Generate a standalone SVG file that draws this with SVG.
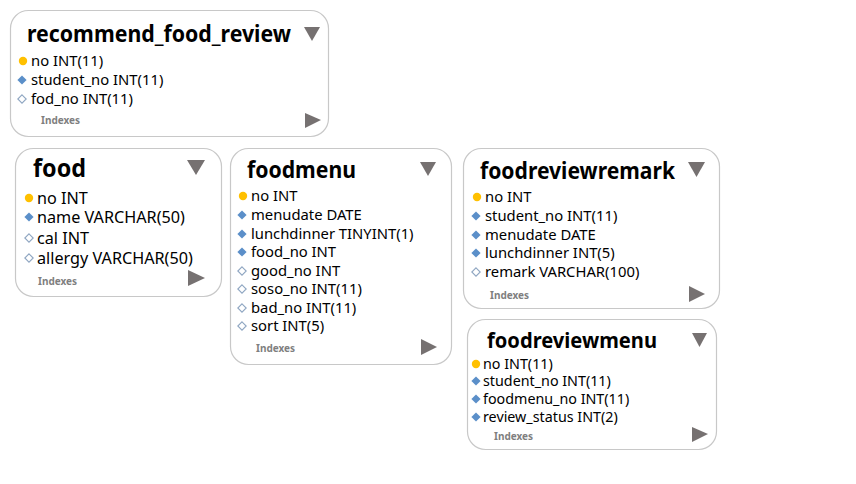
<svg xmlns="http://www.w3.org/2000/svg" width="856" height="484" viewBox="0 0 856 484">
<style>
.box{fill:#fff;stroke:#c8c8c8;stroke-width:1.2}
.t{font-family:"Noto Sans","Open Sans",sans-serif;font-weight:bold;fill:#000}
.r{font-family:"Noto Sans","Open Sans",sans-serif;fill:#000}
.ix{font-family:"Noto Sans","Open Sans",sans-serif;font-weight:bold;fill:#7f7f7f;font-size:10px}
.tri{fill:#767171}
.pk{fill:#FFC000}
.fk{fill:#5B8FC9}
.nn{fill:#fff;stroke:#8FA6C2;stroke-width:1.1}
</style>
<defs>
<circle id="pk" r="4.2" class="pk"/>
<path id="fk" d="M0,-4.6 L4.6,0 L0,4.6 L-4.6,0Z" class="fk"/>
<path id="nn" d="M0,-4.2 L4.2,0 L0,4.2 L-4.2,0Z" class="nn"/>
</defs>
<g id="connectors"/>
<g id="recommend_food_review">
<rect class="box" x="10.5" y="10.5" width="318" height="126" rx="18"/>
<text class="t" x="27" y="42" font-size="23.5" textLength="264" lengthAdjust="spacingAndGlyphs">recommend_food_review</text>
<path class="tri" d="M304,27 L320,27 L312,41Z"/>
<use href="#pk" x="23" y="61"/><text class="r" x="31" y="66" font-size="14.8">no INT(11)</text>
<use href="#fk" x="22" y="80"/><text class="r" x="31" y="85" font-size="14.8">student_no INT(11)</text>
<use href="#nn" x="22" y="99"/><text class="r" x="31" y="104" font-size="14.8">fod_no INT(11)</text>
<text class="ix" x="41" y="124">Indexes</text>
<path class="tri" d="M305,113 L321,120 L305,128Z"/>
</g>
<g id="food">
<rect class="box" x="15.5" y="148.5" width="206" height="148" rx="18"/>
<text class="t" x="33" y="177" font-size="25" textLength="53" lengthAdjust="spacingAndGlyphs">food</text>
<path class="tri" d="M187,160 L205,160 L196,175Z"/>
<use href="#pk" x="29" y="198"/><text class="r" x="37" y="204" font-size="16.2">no INT</text>
<use href="#fk" x="29" y="217"/><text class="r" x="37" y="223" font-size="16.2">name VARCHAR(50)</text>
<use href="#nn" x="29" y="238"/><text class="r" x="37" y="244" font-size="16.2">cal INT</text>
<use href="#nn" x="29" y="258"/><text class="r" x="37" y="264" font-size="16.2">allergy VARCHAR(50)</text>
<text class="ix" x="38" y="285">Indexes</text>
<path class="tri" d="M188,270 L205,278 L188,286Z"/>
</g>
<g id="foodmenu">
<rect class="box" x="230.5" y="148.5" width="221" height="216" rx="18"/>
<text class="t" x="247" y="178" font-size="23.5" textLength="109" lengthAdjust="spacingAndGlyphs">foodmenu</text>
<path class="tri" d="M420,162 L436,162 L428,176Z"/>
<use href="#pk" x="243" y="196"/><text class="r" x="251" y="201" font-size="14.8">no INT</text>
<use href="#fk" x="242" y="215"/><text class="r" x="251" y="220" font-size="14.8">menudate DATE</text>
<use href="#fk" x="242" y="234"/><text class="r" x="251" y="239" font-size="14.8">lunchdinner TINYINT(1)</text>
<use href="#fk" x="242" y="252"/><text class="r" x="251" y="257" font-size="14.8">food_no INT</text>
<use href="#nn" x="242" y="271"/><text class="r" x="251" y="276" font-size="14.8">good_no INT</text>
<use href="#nn" x="242" y="289"/><text class="r" x="251" y="294" font-size="14.8">soso_no INT(11)</text>
<use href="#nn" x="242" y="308"/><text class="r" x="251" y="313" font-size="14.8">bad_no INT(11)</text>
<use href="#nn" x="242" y="326"/><text class="r" x="251" y="331" font-size="14.8">sort INT(5)</text>
<text class="ix" x="256" y="352">Indexes</text>
<path class="tri" d="M421,339 L437,347 L421,355Z"/>
</g>
<g id="foodreviewremark">
<rect class="box" x="463.5" y="148.5" width="256" height="160" rx="18"/>
<text class="t" x="480" y="179" font-size="23.5" textLength="195" lengthAdjust="spacingAndGlyphs">foodreviewremark</text>
<path class="tri" d="M688,162 L705,162 L696.5,177Z"/>
<use href="#pk" x="477" y="197"/><text class="r" x="485" y="202" font-size="14.8">no INT</text>
<use href="#fk" x="476" y="216"/><text class="r" x="485" y="221" font-size="14.8">student_no INT(11)</text>
<use href="#fk" x="476" y="235"/><text class="r" x="485" y="240" font-size="14.8">menudate DATE</text>
<use href="#fk" x="476" y="253"/><text class="r" x="485" y="258" font-size="14.8">lunchdinner INT(5)</text>
<use href="#nn" x="476" y="272"/><text class="r" x="485" y="277" font-size="14.8">remark VARCHAR(100)</text>
<text class="ix" x="490" y="299">Indexes</text>
<path class="tri" d="M689,286 L705,294 L689,302Z"/>
</g>
<g id="foodreviewmenu">
<rect class="box" x="467.5" y="319.5" width="249" height="130" rx="18"/>
<text class="t" x="487" y="348" font-size="22" textLength="170" lengthAdjust="spacingAndGlyphs">foodreviewmenu</text>
<path class="tri" d="M692,333 L707,333 L699.5,347Z"/>
<use href="#pk" x="476" y="364"/><text class="r" x="483" y="369" font-size="14.3">no INT(11)</text>
<use href="#fk" x="476" y="381"/><text class="r" x="483" y="386" font-size="14.3">student_no INT(11)</text>
<use href="#fk" x="476" y="399"/><text class="r" x="483" y="404" font-size="14.3">foodmenu_no INT(11)</text>
<use href="#fk" x="476" y="417"/><text class="r" x="483" y="422" font-size="14.3">review_status INT(2)</text>
<text class="ix" x="494" y="440">Indexes</text>
<path class="tri" d="M692,427 L708,434 L692,442Z"/>
</g>
</svg>
